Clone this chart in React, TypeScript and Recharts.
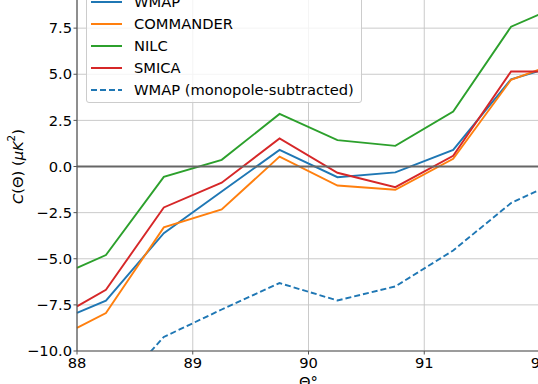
import React from 'react';
import { LineChart, Line, XAxis, YAxis, CartesianGrid, ReferenceLine, Legend } from 'recharts';

const FONT = '"DejaVu Sans", sans-serif';

// angle (degrees) and correlation values
const theta = [88, 88.25, 88.75, 89.25, 89.75, 90.25, 90.75, 91.25, 91.75, 92];
const wmap = [-7.94, -7.27, -3.61, -1.35, 0.9, -0.58, -0.32, 0.9, 4.73, 5.2];
const commander = [-8.75, -7.94, -3.3, -2.33, 0.54, -1.03, -1.26, 0.42, 4.7, 5.27];
const nilc = [-5.5, -4.8, -0.56, 0.36, 2.85, 1.43, 1.12, 2.98, 7.58, 8.26];
const smica = [-7.58, -6.68, -2.22, -0.88, 1.52, -0.34, -1.12, 0.58, 5.15, 5.15];
const wmapMono = [-13.5, -12.7, -9.24, -7.75, -6.32, -7.26, -6.5, -4.55, -1.98, -1.25];

const xTicks = [88, 89, 90, 91, 92];
const yTicks = [-10, -7.5, -5, -2.5, 0, 2.5, 5, 7.5, 10];

const series = [
  { key: 'wmap', name: 'WMAP', color: '#1f77b4', dashed: false },
  { key: 'commander', name: 'COMMANDER', color: '#ff7f0e', dashed: false },
  { key: 'nilc', name: 'NILC', color: '#2ca02c', dashed: false },
  { key: 'smica', name: 'SMICA', color: '#d62728', dashed: false },
  { key: 'wmapMono', name: 'WMAP (monopole-subtracted)', color: '#1f77b4', dashed: true },
];

const data = theta.map((t, i) => ({
  theta: t,
  wmap: wmap[i],
  commander: commander[i],
  nilc: nilc[i],
  smica: smica[i],
  wmapMono: wmapMono[i],
}));

const fmtY = (v: number) => v.toFixed(1).replace('-', '\u2212');

const LegendBox = () => (
  <div
    style={{
      width: 274,
      height: 110,
      paddingTop: 1,
      border: '1px solid #cccccc',
      borderRadius: 3,
      background: 'rgba(255,255,255,0.8)',
      fontFamily: FONT,
    }}
  >
    {series.map((s) => (
      <div key={s.key} style={{ display: 'flex', alignItems: 'center', height: 21.9 }}>
        <svg width={31} height={10} style={{ marginLeft: 4, marginRight: 12 }}>
          <line x1={0} y1={5} x2={31} y2={5} stroke={s.color} strokeWidth={2} strokeDasharray={s.dashed ? '6 3' : undefined} />
        </svg>
        <span style={{ fontSize: 14.7, color: '#000', lineHeight: 1, whiteSpace: 'nowrap' }}>{s.name}</span>
      </div>
    ))}
  </div>
);

const YLabel = (props: any) => {
  const vb = props.viewBox;
  const cy = vb.y + vb.height / 2;
  return (
    <text
      x={17}
      y={cy}
      transform={`rotate(-90, 17, ${cy})`}
      textAnchor="middle"
      dominantBaseline="central"
      fontFamily={FONT}
      fontSize={14.7}
      fill="#000"
    >
      <tspan fontStyle="italic">C</tspan>
      <tspan>(Θ) (</tspan>
      <tspan fontStyle="italic">μK</tspan>
      <tspan fontSize={10.5} dy={-6}>2</tspan>
      <tspan dy={6}>)</tspan>
    </text>
  );
};

const XLabel = (props: any) => {
  const vb = props.viewBox;
  return (
    <text x={vb.x + vb.width / 2} y={vb.y + 36} textAnchor="middle" fontFamily={FONT} fontSize={14.7} fill="#000">
      Θ°
    </text>
  );
};

export default function App() {
  return (
    <div
      style={{
        position: 'fixed',
        left: 0,
        top: 0,
        width: 538,
        height: 384,
        overflow: 'hidden',
        background: '#fff',
        fontFamily: FONT,
      }}
    >
      <div style={{ position: 'absolute', left: 0, top: -38 }}>
        <LineChart width={580} height={429} data={data} margin={{ top: 20, right: 40, bottom: 0, left: 0 }}>
          <CartesianGrid stroke="#c4c4c4" strokeWidth={0.9} />
          <XAxis
            dataKey="theta"
            type="number"
            domain={[88, 92]}
            ticks={xTicks}
            interval={0}
            height={40}
            tickSize={3.5}
            tickMargin={3.5}
            axisLine={{ stroke: '#555', strokeWidth: 1.2 }}
            tickLine={{ stroke: '#555' }}
            tick={{ fill: '#000', fontSize: 14.7, fontFamily: FONT }}
            label={<XLabel />}
          />
          <YAxis
            type="number"
            domain={[-10, 10]}
            ticks={yTicks}
            interval={0}
            allowDataOverflow
            width={77}
            tickSize={3.5}
            tickMargin={1.5}
            tickFormatter={fmtY}
            axisLine={{ stroke: '#555', strokeWidth: 1.2 }}
            tickLine={{ stroke: '#555' }}
            tick={{ fill: '#000', fontSize: 14.7, fontFamily: FONT }}
            label={<YLabel />}
          />
          {series.map((s) => (
            <Line
              key={s.key}
              type="linear"
              dataKey={s.key}
              name={s.name}
              stroke={s.color}
              strokeWidth={1.9}
              strokeDasharray={s.dashed ? '6 3' : undefined}
              dot={false}
              activeDot={false}
              isAnimationActive={false}
            />
          ))}
          <ReferenceLine y={0} stroke="#666" strokeWidth={1.8} />
          <Legend
            layout="horizontal"
            verticalAlign="middle"
            align="center"
            content={<LegendBox />}
            wrapperStyle={{ left: 86, top: 27.5, width: 'auto', height: 'auto' }}
          />
        </LineChart>
      </div>
    </div>
  );
}
